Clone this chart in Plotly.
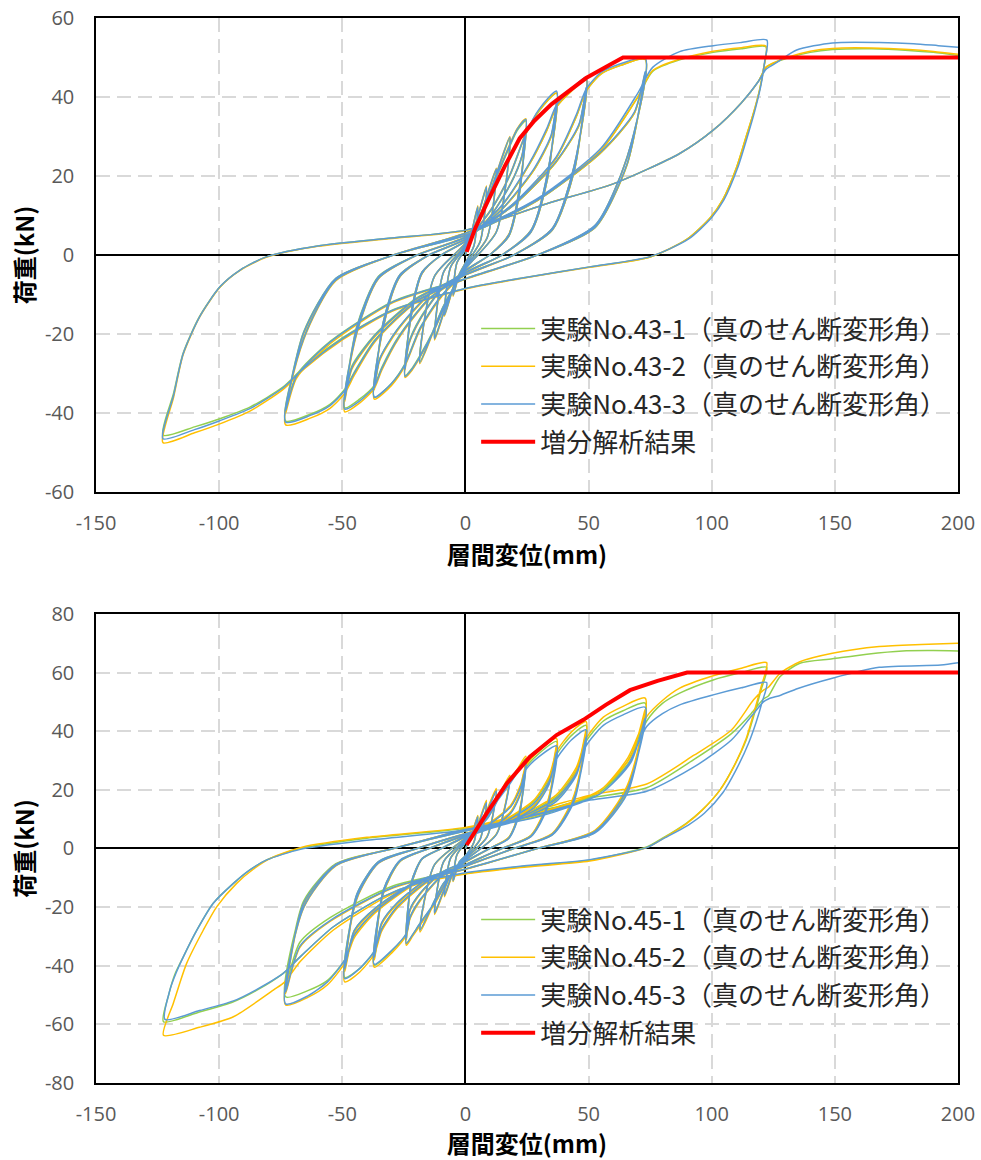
import plotly.graph_objects as go

# ---------------- data ----------------
# Upper chart: specimen No.43  (displacement mm, load kN)
exp43_1 = [
    (0, 0),
    (2.5, 5.6), (5, 12), (3.5, 2.4), (0, -2), (-2.5, -4.8), (-5, -10), (-3.5, -2), (0, 1.5),
    (4.3, 8), (8.5, 17), (6, 3.4), (0, -2.5), (-4.3, -7), (-8.5, -15), (-6, -3), (0, 2),
    (6.3, 10.3), (12.5, 21.5), (8.8, 4.3), (0, -3), (-6.3, -10), (-12.5, -21), (-8.8, -4.2), (0, 2.5),
    (9, 14), (18, 29.5), (12.6, 5.9), (0, -3.5), (-9, -13), (-18.5, -27), (-12.6, -5.4), (0, 3),
    (6, 10), (12.5, 19.5), (18, 27.5), (21, 31.5), (24.5, 34), (22, 17), (17.6, 5.1), (9.8, 0), (0, -4),
    (-6, -9.5), (-12.5, -18.5), (-18.5, -25.5), (-21.5, -28.5), (-24.5, -30.5), (-22, -15.3), (-17.6, -4.6), (-9.8, 0), (0, 3.5),
    (9.8, 9.5), (18.4, 18), (23, 25), (24.5, 31.5), (22, 15.7), (17.6, 4.7), (9.8, 0), (0, -4),
    (-9.8, -8.6), (-18.4, -16), (-23, -22.2), (-24.5, -28.5), (-22, -14.2), (-17.6, -4.3), (-9.8, 0), (0, 3.5),
    (10, 11), (18, 20), (24.5, 30.5), (30, 36.5), (37, 41), (33.3, 20.5), (26.6, 6.2), (14.8, 0), (0, -4.5),
    (-10, -10.5), (-18.5, -18.5), (-24.5, -27.5), (-30, -32.5), (-37, -36), (-33.3, -18), (-26.6, -5.4), (-14.8, 0), (0, 4),
    (14.8, 11.5), (27.8, 21.5), (34.8, 30), (37, 38.3), (33.3, 19.2), (26.6, 5.8), (14.8, 0), (0, -4.5),
    (-14.8, -10), (-27.8, -19), (-34.8, -26.3), (-37, -33.6), (-33.3, -16.8), (-26.6, -5), (-14.8, 0), (0, 4),
    (14.8, 12.5), (26, 23), (33, 31.5), (37, 37.5), (43, 41.5), (49, 44.5), (44.1, 22.3), (35.3, 6.7), (19.6, 0), (0, -5),
    (-14.8, -11), (-27, -20.5), (-34, -28.5), (-37, -33), (-43, -36.5), (-49, -38.7), (-44.1, -19.3), (-35.3, -5.8), (-19.6, 0), (0, 4.5),
    (19.6, 12.6), (36.8, 23.5), (46.1, 32.8), (49, 42), (44.1, 21), (35.3, 6.3), (19.6, 0), (0, -5),
    (-19.6, -10.8), (-36.8, -20.2), (-46.1, -28.1), (-49, -36), (-44.1, -18), (-35.3, -5.4), (-19.6, 0), (0, 4.5),
    (19.6, 13), (36.8, 24.5), (45, 35), (49, 41.5), (55, 45.8), (63, 48), (73, 49.5), (65.7, 24.8), (52.6, 7.4), (29.2, 0), (0, -6),
    (-19.6, -11.5), (-36.8, -21.5), (-45, -29.5), (-49, -34), (-55, -37.8), (-63, -40.3), (-73, -42), (-65.7, -21), (-52.6, -6.3), (-29.2, 0), (0, 5),
    (29.2, 13.8), (54.8, 25.8), (68.6, 35.9), (73, 46), (65.7, 23), (52.6, 6.9), (29.2, 0), (0, -6),
    (-29.2, -11.7), (-54.8, -21.8), (-68.6, -30.4), (-73, -39), (-65.7, -19.5), (-52.6, -5.9), (-29.2, 0), (0, 5.5),
    (29, 14), (55, 26.5), (70, 40), (76, 46.5), (87, 49.4), (100.6, 51.3), (112, 52.2), (122, 52.7),
    (121, 47), (119.5, 42), (117, 36), (114, 30), (110, 22), (104.5, 14), (99.5, 9.5), (90, 4), (75, -0.5),
    (50.5, -3), (25, -5.6), (0, -8.5),
    (-30, -14), (-50, -21), (-65, -28), (-74, -33.4), (-87.5, -38.5), (-100, -41.5), (-110, -43.5), (-122.8, -45.6),
    (-118.5, -35), (-114.6, -24.8), (-108, -15.6), (-99.6, -8), (-91.5, -3.8), (-80.6, -0.4), (-60, 2.3), (-30, 4.3), (0, 6.3),
    (33, 13), (60, 18), (87, 25.7), (100.6, 31.6), (112, 38.5), (119, 44), (122, 47.5), (126, 48.8), (130.5, 49.8),
    (140, 51.3), (149, 52), (165, 52.2), (180, 51.8), (190, 51.3), (200, 50.5),
]
exp43_2 = [
    (0, 0),
    (2.5, 5.8), (5, 12.5), (3.5, 2.5), (0, -2), (-2.5, -5), (-5, -10.5), (-3.5, -2.1), (0, 1.6),
    (4.3, 8.2), (8.5, 17.5), (6, 3.5), (0, -2.6), (-4.3, -7.2), (-8.5, -15.5), (-6, -3.1), (0, 2.1),
    (6.3, 10.5), (12.5, 22), (8.8, 4.4), (0, -3.1), (-6.3, -10.2), (-12.5, -21.5), (-8.8, -4.3), (0, 2.6),
    (9, 14.3), (18, 30), (12.6, 6), (0, -3.6), (-9, -13.3), (-18.5, -27.5), (-12.6, -5.5), (0, 3.1),
    (6, 10.2), (12.5, 19.8), (18, 28), (21, 32), (24.5, 34.5), (22, 17.3), (17.6, 5.2), (9.8, 0), (0, -4.1),
    (-6, -9.7), (-12.5, -18.9), (-18.5, -26), (-21.5, -29), (-24.5, -31), (-22, -15.5), (-17.6, -4.7), (-9.8, 0), (0, 3.6),
    (9.8, 9.6), (18.4, 18.2), (23, 25.3), (24.5, 32), (22, 16), (17.6, 4.8), (9.8, 0), (0, -4.1),
    (-9.8, -8.8), (-18.4, -16.4), (-23, -22.7), (-24.5, -29), (-22, -14.5), (-17.6, -4.4), (-9.8, 0), (0, 3.6),
    (10, 11.2), (18, 20.3), (24.5, 30.8), (30, 36.7), (37, 41), (33.3, 20.5), (26.6, 6.2), (14.8, 0), (0, -4.6),
    (-10, -10.8), (-18.5, -19), (-24.5, -28), (-30, -33), (-37, -36.5), (-33.3, -18.3), (-26.6, -5.5), (-14.8, 0), (0, 4.1),
    (14.8, 11.5), (27.8, 21.5), (34.8, 30), (37, 38.3), (33.3, 19.2), (26.6, 5.8), (14.8, 0), (0, -4.6),
    (-14.8, -10.2), (-27.8, -19.3), (-34.8, -26.7), (-37, -34.1), (-33.3, -17), (-26.6, -5.1), (-14.8, 0), (0, 4.1),
    (14.8, 12.5), (26, 23), (33, 31.5), (37, 37.5), (43, 41.5), (49, 44.5), (44.1, 22.3), (35.3, 6.7), (19.6, 0), (0, -5.1),
    (-14.8, -11.3), (-27, -21), (-34, -29.2), (-37, -33.8), (-43, -37.5), (-49, -39.7), (-44.1, -19.9), (-35.3, -6), (-19.6, 0), (0, 4.6),
    (19.6, 12.6), (36.8, 23.5), (46.1, 32.8), (49, 42), (44.1, 21), (35.3, 6.3), (19.6, 0), (0, -5.1),
    (-19.6, -11.1), (-36.8, -20.7), (-46.1, -28.9), (-49, -37), (-44.1, -18.5), (-35.3, -5.6), (-19.6, 0), (0, 4.6),
    (19.6, 13), (36.8, 24.5), (45, 35), (49, 41.5), (55, 45.8), (63, 48), (73, 49.5), (65.7, 24.8), (52.6, 7.4), (29.2, 0), (0, -6.1),
    (-19.6, -11.8), (-36.8, -22), (-45, -30.3), (-49, -35), (-55, -38.8), (-63, -41.3), (-73, -43), (-65.7, -21.5), (-52.6, -6.5), (-29.2, 0), (0, 5.1),
    (29.2, 13.8), (54.8, 25.8), (68.6, 35.9), (73, 46), (65.7, 23), (52.6, 6.9), (29.2, 0), (0, -6.1),
    (-29.2, -12), (-54.8, -22.4), (-68.6, -31.2), (-73, -40), (-65.7, -20), (-52.6, -6), (-29.2, 0), (0, 5.6),
    (29, 14), (55, 26.5), (70, 40), (76, 46.7), (87, 49.6), (100.6, 51.6), (112, 52.5), (122, 52.9),
    (121, 47), (119.5, 42), (117, 36), (114, 30), (110, 22), (104.5, 14), (99.5, 9.5), (90, 4), (75, -0.5),
    (50.5, -3.1), (25, -5.7), (0, -8.6),
    (-30, -14.3), (-50, -21.5), (-65, -28.6), (-74, -34), (-87.5, -39.5), (-100, -42.8), (-110, -45), (-122.8, -47.5),
    (-118.5, -36), (-114.6, -25.2), (-108, -15.8), (-99.6, -8.1), (-91.5, -3.9), (-80.6, -0.5), (-60, 2.2), (-30, 4.2), (0, 6.2),
    (33, 13), (60, 18), (87, 25.7), (100.6, 31.6), (112, 38.5), (119, 44), (122, 47.5), (126, 48.9), (130.5, 50),
    (140, 51.6), (149, 52.3), (165, 52.4), (180, 52), (190, 51.5), (200, 50.8),
]
exp43_3 = [
    (0, 0),
    (2.5, 5.7), (5, 12.2), (3.5, 2.4), (0, -2), (-2.5, -4.9), (-5, -10.2), (-3.5, -2), (0, 1.5),
    (4.3, 8.1), (8.5, 17.2), (6, 3.4), (0, -2.5), (-4.3, -7.1), (-8.5, -15.2), (-6, -3), (0, 2),
    (6.3, 10.4), (12.5, 21.8), (8.8, 4.3), (0, -3), (-6.3, -10.1), (-12.5, -21.2), (-8.8, -4.2), (0, 2.5),
    (9, 14.2), (18, 29.8), (12.6, 5.9), (0, -3.5), (-9, -13.1), (-18.5, -27.2), (-12.6, -5.4), (0, 3),
    (6, 10.1), (12.5, 19.7), (18, 27.8), (21, 31.8), (24.5, 34.3), (22, 17.1), (17.6, 5.1), (9.8, 0), (0, -4),
    (-6, -9.6), (-12.5, -18.7), (-18.5, -25.7), (-21.5, -28.7), (-24.5, -30.7), (-22, -15.4), (-17.6, -4.6), (-9.8, 0), (0, 3.5),
    (9.8, 9.5), (18.4, 18.1), (23, 25.2), (24.5, 31.8), (22, 15.9), (17.6, 4.8), (9.8, 0), (0, -4),
    (-9.8, -8.7), (-18.4, -16.2), (-23, -22.4), (-24.5, -28.7), (-22, -14.3), (-17.6, -4.3), (-9.8, 0), (0, 3.5),
    (10, 11.1), (18, 20.2), (24.5, 30.7), (30, 37), (37, 41.5), (33.3, 20.7), (26.6, 6.2), (14.8, 0), (0, -4.5),
    (-10, -10.5), (-18.5, -18.7), (-24.5, -27.7), (-30, -32.5), (-37, -36), (-33.3, -18), (-26.6, -5.4), (-14.8, 0), (0, 4),
    (14.8, 11.6), (27.8, 21.8), (34.8, 30.4), (37, 38.8), (33.3, 19.4), (26.6, 5.8), (14.8, 0), (0, -4.5),
    (-14.8, -10), (-27.8, -19), (-34.8, -26.3), (-37, -33.6), (-33.3, -16.8), (-26.6, -5), (-14.8, 0), (0, 4),
    (14.8, 12.6), (26, 23.3), (33, 32), (37, 38), (43, 42), (49, 45), (44.1, 22.5), (35.3, 6.8), (19.6, 0), (0, -5),
    (-14.8, -11.1), (-27, -20.7), (-34, -28.8), (-37, -33.3), (-43, -37), (-49, -39), (-44.1, -19.5), (-35.3, -5.9), (-19.6, 0), (0, 4.5),
    (19.6, 12.7), (36.8, 23.7), (46.1, 33.1), (49, 42.4), (44.1, 21.2), (35.3, 6.4), (19.6, 0), (0, -5),
    (-19.6, -11), (-36.8, -20.4), (-46.1, -28.5), (-49, -36.5), (-44.1, -18.3), (-35.3, -5.5), (-19.6, 0), (0, 4.5),
    (19.6, 13.1), (36.8, 24.8), (45, 35.5), (49, 42), (55, 46.2), (63, 48.4), (73, 49.8), (65.7, 24.9), (52.6, 7.5), (29.2, 0), (0, -6),
    (-19.6, -11.6), (-36.8, -21.7), (-45, -29.8), (-49, -34.3), (-55, -38.1), (-63, -40.6), (-73, -42.3), (-65.7, -21.2), (-52.6, -6.3), (-29.2, 0), (0, 5),
    (29.2, 13.9), (54.8, 26), (68.6, 36.2), (73, 46.4), (65.7, 23.2), (52.6, 7), (29.2, 0), (0, -6),
    (-29.2, -11.8), (-54.8, -22), (-68.6, -30.7), (-73, -39.3), (-65.7, -19.7), (-52.6, -5.9), (-29.2, 0), (0, 5.5),
    (29, 14.2), (55, 27), (70, 41), (76, 47.5), (87, 51.5), (100.6, 53), (112, 53.8), (122.4, 54.4),
    (121.5, 49), (120, 43), (117.5, 36.5), (114.5, 30), (110.5, 22), (105, 14), (100, 9.5), (90.5, 4), (75, -0.4),
    (50.5, -3), (25, -5.6), (0, -8.5),
    (-30, -14.1), (-50, -21.2), (-65, -28.3), (-74, -33.6), (-87.5, -38.9), (-100, -42), (-110, -44.2), (-122.8, -46.5),
    (-118.5, -35.5), (-114.6, -25), (-108, -15.7), (-99.6, -8), (-91.5, -3.8), (-80.6, -0.4), (-60, 2.3), (-30, 4.3), (0, 6.3),
    (33, 13), (60, 18), (87, 25.7), (100.6, 31.6), (112, 38.5), (119, 44), (122, 47), (125, 48.2), (128, 49.4),
    (134.5, 51.9), (149, 53.7), (168, 53.8), (182, 53.5), (192, 53), (200, 52.6),
]
analysis43 = [(0.5, 0.8), (4, 6.8), (9, 13.5), (16, 22.5), (22, 29.5), (28, 34), (35, 38.2),
              (42, 41.6), (49, 44.8), (57, 47.6), (64, 50), (200, 50)]

# Lower chart: specimen No.45
exp45_1 = [
    (0, 0),
    (2.5, 4.6), (5, 11), (3.5, 2.2), (0, -2.5), (-2.5, -4.6), (-5, -11), (-3.5, -2.2), (0, 2),
    (4.3, 6.5), (8.5, 16), (6, 3.2), (0, -3), (-4.3, -6.8), (-8.5, -16), (-6, -3.2), (0, 2.5),
    (6.3, 8.5), (12.5, 20), (8.8, 4), (0, -3.5), (-6.3, -9.5), (-12.5, -22), (-8.8, -4.4), (0, 3),
    (9, 10.5), (18, 24.5), (12.6, 4.9), (0, -4), (-9, -12), (-18.4, -27.8), (-12.6, -5.6), (0, 3.5),
    (6.3, 8), (12.5, 16), (18, 22.5), (21.5, 27), (24.5, 30.8), (22, 12.9), (17.6, 3.7), (9.8, 0), (0, -4.5),
    (-6.3, -9.5), (-12.5, -18.5), (-18.4, -25.5), (-21.5, -29.5), (-24, -32.4), (-22, -12.3), (-17.6, -3.6), (-9.8, 0), (0, 4),
    (9.8, 7), (18.4, 12.3), (22.5, 19.3), (24.5, 29), (22, 12.2), (17.6, 3.5), (9.8, 0), (0, -4.5),
    (-9.8, -8.2), (-18.4, -15.3), (-22.5, -20.8), (-24, -30.5), (-22, -11.6), (-17.6, -3.4), (-9.8, 0), (0, 4),
    (9.8, 8.5), (18.4, 14.5), (22.5, 21.5), (24.5, 27.5), (30, 32.5), (37, 36.5), (33.3, 15.3), (26.6, 4.4), (14.8, 0), (0, -5.5),
    (-9.8, -9.5), (-18.4, -17.5), (-22.5, -23.5), (-24, -29), (-30, -35), (-37, -39.8), (-33.3, -15.1), (-26.6, -4.4), (-14.8, 0), (0, 4.5),
    (14.8, 8.3), (27.8, 14.4), (34, 22.7), (37, 34.3), (33.3, 14.4), (26.6, 4.1), (14.8, 0), (0, -5.5),
    (-14.8, -10.1), (-27.8, -18.7), (-34, -25.5), (-37, -37.4), (-33.3, -14.2), (-26.6, -4.1), (-14.8, 0), (0, 4.5),
    (14.8, 9), (27.8, 16), (34, 24), (37, 32), (43, 38.5), (49, 42), (44.1, 17.6), (35.3, 5), (19.6, 0), (0, -6),
    (-14.8, -10.8), (-27.8, -20), (-34, -27.5), (-37, -35), (-43, -41), (-49, -44), (-44.1, -16.7), (-35.3, -4.8), (-19.6, 0), (0, 5),
    (19.6, 9.5), (36.8, 16.6), (45.1, 26.1), (49, 39.5), (44.1, 16.6), (35.3, 4.7), (19.6, 0), (0, -6),
    (-19.6, -11.1), (-36.8, -20.5), (-45.1, -27.9), (-49, -41), (-44.1, -15.6), (-35.3, -4.5), (-19.6, 0), (0, 5),
    (19.6, 10), (36.8, 17.6), (45.1, 27), (49, 36.5), (56, 43.5), (64, 47), (73, 49.6), (65.7, 20.8), (52.6, 6), (29.2, 0), (0, -7),
    (-19.6, -11.5), (-36.8, -21.5), (-45.1, -29.5), (-49, -38), (-56, -45), (-64, -48.5), (-73, -50.6), (-65.7, -19.2), (-52.6, -5.6), (-29.2, 0), (0, 6),
    (29.2, 11), (54.8, 19.3), (67.2, 30.4), (73, 46), (65.7, 19.3), (52.6, 5.5), (29.2, 0), (0, -7),
    (-29.2, -12.7), (-54.8, -23.5), (-67.2, -32), (-73, -47), (-65.7, -17.9), (-52.6, -5.2), (-29.2, 0), (0, 6.5),
    (20, 10), (40, 14.5), (55, 19.5), (66, 30), (73.6, 43.5), (80, 49.5), (87, 53), (100.6, 57.5), (112, 60), (122.3, 61.8),
    (120, 54), (117, 45), (114, 37), (109, 28), (103.4, 20), (96, 13), (89.8, 8.7), (80, 3.5), (73.6, 0.5),
    (50.5, -4), (25, -6), (0, -8.5),
    (-20, -12), (-33.3, -16.4), (-53.6, -26.7), (-67, -36.9), (-74, -42.6), (-85, -48.5), (-94.2, -52.3), (-108, -55.8), (-122.6, -59.1),
    (-120.5, -50), (-118, -43), (-114.5, -36.9), (-109, -27.8), (-102.4, -18.7), (-94.2, -11.9), (-87.5, -7.3), (-80.7, -3.9),
    (-67, 0), (-40, 3.5), (0, 6.9),
    (20, 10.5), (35, 13.8), (50.6, 17.2), (73.6, 20.7), (93, 30.5), (108, 39.2), (116, 46), (121, 51), (123, 52),
    (127.7, 58.6), (135.8, 63.2), (149, 64.7), (163, 66.3), (177.5, 67.4), (190, 67.5), (200, 67.4),
]
exp45_2 = [
    (0, 0),
    (2.5, 4.8), (5, 11.3), (3.5, 2.3), (0, -2.6), (-2.5, -4.8), (-5, -11.3), (-3.5, -2.3), (0, 2.1),
    (4.3, 6.8), (8.5, 16.5), (6, 3.3), (0, -3.1), (-4.3, -7), (-8.5, -16.5), (-6, -3.3), (0, 2.6),
    (6.3, 8.8), (12.5, 20.5), (8.8, 4.1), (0, -3.6), (-6.3, -9.8), (-12.5, -22.5), (-8.8, -4.5), (0, 3.1),
    (9, 10.8), (18, 25), (12.6, 5), (0, -4.1), (-9, -12.4), (-18.4, -28.5), (-12.6, -5.7), (0, 3.6),
    (6.3, 8.2), (12.5, 16.4), (18, 23), (21.5, 27.6), (24.5, 31.5), (22, 13.2), (17.6, 3.8), (9.8, 0), (0, -4.6),
    (-6.3, -9.8), (-12.5, -19), (-18.4, -26.2), (-21.5, -30), (-24, -33), (-22, -12.5), (-17.6, -3.6), (-9.8, 0), (0, 4.1),
    (9.8, 7.2), (18.4, 12.6), (22.5, 19.8), (24.5, 29.6), (22, 12.4), (17.6, 3.6), (9.8, 0), (0, -4.6),
    (-9.8, -8.4), (-18.4, -15.6), (-22.5, -21.2), (-24, -31), (-22, -11.8), (-17.6, -3.5), (-9.8, 0), (0, 4.1),
    (9.8, 8.7), (18.4, 14.8), (22.5, 22), (24.5, 28.2), (30, 33.4), (37, 37.5), (33.3, 15.8), (26.6, 4.5), (14.8, 0), (0, -5.6),
    (-9.8, -9.7), (-18.4, -17.9), (-22.5, -24), (-24, -29.6), (-30, -35.7), (-37, -40.5), (-33.3, -15.4), (-26.6, -4.5), (-14.8, 0), (0, 4.6),
    (14.8, 8.5), (27.8, 14.8), (34, 23.3), (37, 35.3), (33.3, 14.8), (26.6, 4.2), (14.8, 0), (0, -5.6),
    (-14.8, -10.3), (-27.8, -19.1), (-34, -25.9), (-37, -38), (-33.3, -14.5), (-26.6, -4.2), (-14.8, 0), (0, 4.6),
    (14.8, 9.3), (27.8, 16.5), (34, 24.7), (37, 33), (43, 39.7), (49, 43.3), (44.1, 18.2), (35.3, 5.2), (19.6, 0), (0, -6.1),
    (-14.8, -11.1), (-27.8, -20.5), (-34, -28.2), (-37, -36), (-43, -42.2), (-49, -45.5), (-44.1, -17.3), (-35.3, -5), (-19.6, 0), (0, 5.1),
    (19.6, 9.7), (36.8, 17), (45.1, 26.7), (49, 40.5), (44.1, 17), (35.3, 4.9), (19.6, 0), (0, -6.1),
    (-19.6, -11.3), (-36.8, -21), (-45.1, -28.6), (-49, -42), (-44.1, -16), (-35.3, -4.6), (-19.6, 0), (0, 5.1),
    (19.6, 10.3), (36.8, 18.2), (45.1, 27.8), (49, 37.5), (56, 44.8), (64, 48.5), (73, 51.3), (65.7, 21.5), (52.6, 6.2), (29.2, 0), (0, -7.1),
    (-19.6, -11.8), (-36.8, -22.1), (-45.1, -30.4), (-49, -39), (-56, -46.5), (-64, -50.8), (-73, -53.4), (-65.7, -20.3), (-52.6, -5.9), (-29.2, 0), (0, 6.1),
    (29.2, 11.4), (54.8, 20), (67.2, 31.4), (73, 47.5), (65.7, 20), (52.6, 5.7), (29.2, 0), (0, -7.1),
    (-29.2, -13.4), (-54.8, -24.8), (-67.2, -33.7), (-73, -49.5), (-65.7, -18.8), (-52.6, -5.4), (-29.2, 0), (0, 6.6),
    (20, 10.2), (40, 14.8), (55, 20), (66, 31), (73.6, 45), (80, 50.5), (87, 54.7), (100.6, 58.9), (112, 61.5), (122.3, 63.4),
    (120, 55), (117, 46), (114, 37.5), (109, 28), (103.4, 20), (96, 13), (89.8, 8.5), (80, 3.3), (73.6, 0.3),
    (50.5, -4.3), (25, -6.3), (0, -8.7),
    (-20, -12.3), (-33.3, -17), (-53.6, -27.8), (-67, -38.5), (-73.3, -45.5), (-78, -48.3), (-94.2, -57.4), (-108, -61), (-122.6, -63.7),
    (-118.6, -52.8), (-116, -46), (-113.2, -39.2), (-106.4, -27.8), (-101, -19.9), (-92.9, -11.9), (-86, -7), (-79, -3.3),
    (-66, 0.5), (-40, 3.8), (0, 7.2),
    (20, 11), (35, 14.5), (50.6, 18.2), (73.6, 22), (93, 31.9), (108, 40.4), (117, 50.7), (121, 54), (123, 55),
    (127.7, 59.7), (135.8, 63.7), (149, 66.6), (168, 68.9), (185, 69.6), (200, 70),
]
exp45_3 = [
    (0, 0),
    (2.5, 4.5), (5, 10.8), (3.5, 2.2), (0, -2.5), (-2.5, -4.6), (-5, -11), (-3.5, -2.2), (0, 2),
    (4.3, 6.4), (8.5, 15.7), (6, 3.1), (0, -3), (-4.3, -6.8), (-8.5, -16), (-6, -3.2), (0, 2.5),
    (6.3, 8.3), (12.5, 19.6), (8.8, 3.9), (0, -3.5), (-6.3, -9.5), (-12.5, -22), (-8.8, -4.4), (0, 3),
    (9, 10.3), (18, 24), (12.6, 4.8), (0, -4), (-9, -12), (-18.4, -27.8), (-12.6, -5.6), (0, 3.5),
    (6.3, 7.8), (12.5, 15.7), (18, 22), (21.5, 26.4), (24.5, 30), (22, 12.6), (17.6, 3.6), (9.8, 0), (0, -4.5),
    (-6.3, -9.5), (-12.5, -18.5), (-18.4, -25.5), (-21.5, -29.5), (-24, -32.4), (-22, -12.3), (-17.6, -3.6), (-9.8, 0), (0, 4),
    (9.8, 6.8), (18.4, 12), (22.5, 18.8), (24.5, 28.2), (22, 11.9), (17.6, 3.4), (9.8, 0), (0, -4.5),
    (-9.8, -8.2), (-18.4, -15.3), (-22.5, -20.8), (-24, -30.5), (-22, -11.6), (-17.6, -3.4), (-9.8, 0), (0, 4),
    (9.8, 8.3), (18.4, 14.2), (22.5, 21), (24.5, 26.8), (30, 31.4), (37, 35), (33.3, 14.7), (26.6, 4.2), (14.8, 0), (0, -5.5),
    (-9.8, -9.5), (-18.4, -17.5), (-22.5, -23.5), (-24, -29), (-30, -34.8), (-37, -39.5), (-33.3, -15), (-26.6, -4.3), (-14.8, 0), (0, 4.5),
    (14.8, 8), (27.8, 13.9), (34, 21.9), (37, 32.9), (33.3, 13.9), (26.6, 4), (14.8, 0), (0, -5.5),
    (-14.8, -10), (-27.8, -18.6), (-34, -25.3), (-37, -37.1), (-33.3, -14.1), (-26.6, -4), (-14.8, 0), (0, 4.5),
    (14.8, 8.7), (27.8, 15.4), (34, 22.9), (37, 30.5), (43, 37), (49, 40.5), (44.1, 17), (35.3, 4.9), (19.6, 0), (0, -6),
    (-14.8, -10.8), (-27.8, -20), (-34, -27.5), (-37, -35), (-43, -41), (-49, -44.4), (-44.1, -16.9), (-35.3, -4.9), (-19.6, 0), (0, 5),
    (19.6, 9.1), (36.8, 16), (45.1, 25.1), (49, 38), (44.1, 16), (35.3, 4.6), (19.6, 0), (0, -6),
    (-19.6, -11.1), (-36.8, -20.5), (-45.1, -27.9), (-49, -41), (-44.1, -15.6), (-35.3, -4.5), (-19.6, 0), (0, 5),
    (19.6, 9.7), (36.8, 17), (45.1, 25.8), (49, 35), (56, 42), (64, 45.6), (73, 48.2), (65.7, 20.2), (52.6, 5.8), (29.2, 0), (0, -7),
    (-19.6, -11.5), (-36.8, -21.5), (-45.1, -29.5), (-49, -38), (-56, -45.5), (-64, -50.3), (-73, -53), (-65.7, -20.1), (-52.6, -5.8), (-29.2, 0), (0, 6),
    (29.2, 10.7), (54.8, 18.7), (67.2, 29.4), (73, 44.5), (65.7, 18.7), (52.6, 5.3), (29.2, 0), (0, -7),
    (-29.2, -13.2), (-54.8, -24.5), (-67.2, -33.3), (-73, -49), (-65.7, -18.6), (-52.6, -5.4), (-29.2, 0), (0, 6.5),
    (20, 9.8), (40, 14), (55, 18.8), (66, 28.5), (73.6, 41.6), (80, 46), (87, 49), (100.6, 52.4), (112, 54.8), (122.3, 56.6),
    (120.5, 50), (118, 43), (115, 36), (110, 27), (104.5, 19), (97, 12), (90.5, 8), (80, 3.2), (73.6, 0.3),
    (50.5, -3.8), (25, -5.8), (0, -8.3),
    (-20, -12), (-33.3, -16.4), (-53.6, -26.7), (-67, -36.9), (-74, -42.6), (-85, -48.2), (-94.2, -52), (-108, -55.3), (-122, -58.3),
    (-120, -48.3), (-117.5, -42.5), (-114.5, -36.9), (-109, -27.8), (-102.4, -18.7), (-94.2, -11.9), (-87.5, -7.3), (-80.7, -3.9),
    (-67, -0.3), (-40, 2.8), (0, 6.3),
    (20, 9.8), (35, 13), (50.6, 16.5), (73.6, 19.5), (93, 27.9), (108, 37), (116, 45), (121, 50), (123, 51),
    (128, 52.3), (135, 54.6), (149, 58.1), (168, 61.8), (193, 62.6), (200, 63.4),
]
analysis45 = [(0.5, 1.2), (8.6, 12), (16.8, 22.2), (26.2, 31.3), (37, 38.7), (47.9, 43.9),
              (57, 49), (66.8, 54), (78, 57.2), (90, 60), (200, 60)]

names43 = ["実験No.43-1（真のせん断変形角）", "実験No.43-2（真のせん断変形角）",
           "実験No.43-3（真のせん断変形角）", "増分解析結果"]
names45 = ["実験No.45-1（真のせん断変形角）", "実験No.45-2（真のせん断変形角）",
           "実験No.45-3（真のせん断変形角）", "増分解析結果"]
colors = ["#92D050", "#FFC000", "#5B9BD5", "#FF0000"]

x_ticks = [-150, -100, -50, 0, 50, 100, 150, 200]
y_ticks_top = [-60, -40, -20, 0, 20, 40, 60]
y_ticks_bottom = [-80, -60, -40, -20, 0, 20, 40, 60, 80]
x_title = "層間変位(mm)"
y_title = "荷重(kN)"

# ---------------- figure ----------------
fig = go.Figure()


def add_set(series, names, xa, ya, legend_name, grp):
    for i, (pts, nm) in enumerate(zip(series, names)):
        xs = [p[0] for p in pts]
        ys = [p[1] for p in pts]
        is_red = (i == 3)
        fig.add_trace(go.Scatter(
            x=xs, y=ys, mode="lines", name=nm,
            xaxis=xa, yaxis=ya, legend=legend_name,
            legendgroup=f"{grp}{i}",
            line=dict(color=colors[i], width=4 if is_red else 1.5,
                      shape="linear" if is_red else "spline",
                      smoothing=0 if is_red else 0.7),
            hoverinfo="skip",
        ))


add_set([exp43_1, exp43_2, exp43_3, analysis43], names43, "x", "y", "legend", "a")
add_set([exp45_1, exp45_2, exp45_3, analysis45], names45, "x2", "y2", "legend2", "b")

tickfont = dict(family="Open Sans", size=20, color="#595959")

axis_common = dict(
    showline=True, mirror=True, linecolor="black", linewidth=1.5,
    showgrid=True, gridcolor="#d9d9d9", gridwidth=1.5, griddash="14px,7px",
    zeroline=True, zerolinecolor="black", zerolinewidth=1.5,
    ticks="outside", tickcolor="rgba(0,0,0,0)",
    tickfont=tickfont, automargin=False,
)


def xax(anchor):
    return dict(domain=[0, 1], anchor=anchor, range=[-150, 200],
                tickmode="array", tickvals=x_ticks, ticktext=[str(v) for v in x_ticks],
                ticklen=12,
                title=dict(text=f"<b>{x_title}</b>",
                           font=dict(family="Noto Sans CJK JP", size=24, color="#000000"),
                           standoff=4),
                **axis_common)


def yax(anchor, dom, rng, vals):
    return dict(domain=dom, anchor=anchor, range=rng,
                tickmode="array", tickvals=vals, ticktext=[str(v) for v in vals],
                ticklen=16,
                title=dict(text=f"<b>{y_title}</b>",
                           font=dict(family="Noto Sans CJK JP", size=24, color="#000000"),
                           standoff=4),
                **axis_common)


legend_common = dict(
    xanchor="left", yanchor="top", bgcolor="rgba(0,0,0,0)", borderwidth=0,
    font=dict(family="Noto Sans CJK JP", size=26, color="#262626"),
    traceorder="grouped", tracegroupgap=1, itemwidth=54,
)

fig.update_layout(
    width=981, height=1160,
    margin=dict(l=96, r=23, t=18, b=77, autoexpand=False),
    paper_bgcolor="white", plot_bgcolor="white",
    showlegend=True,
    xaxis=xax("y"),
    yaxis=yax("x", [0.5549, 1], [-60, 60], y_ticks_top),
    xaxis2=xax("y2"),
    yaxis2=yax("x2", [0, 0.4404], [-80, 80], y_ticks_bottom),
    legend=dict(x=0.441, y=0.7305, **legend_common),
    legend2=dict(x=0.441, y=0.1756, **legend_common),
)

fig.write_html("out.html")
